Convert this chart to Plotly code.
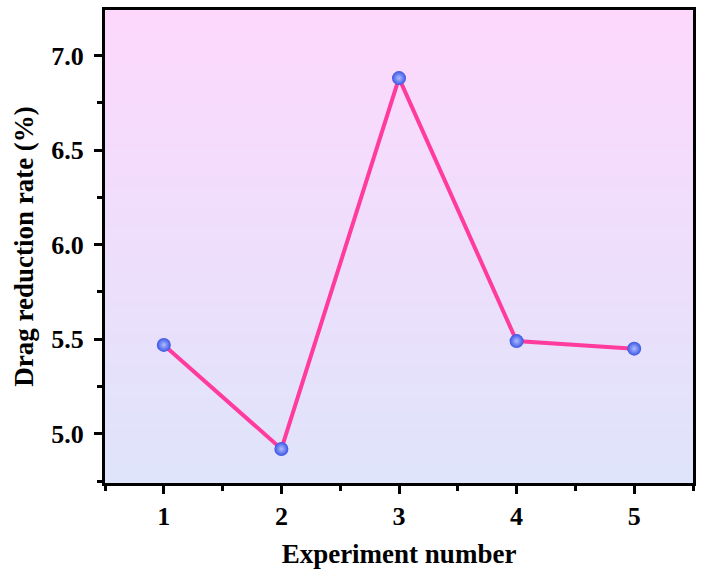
import plotly.graph_objects as go

experiments = [1, 2, 3, 4, 5]
drag_reduction = [5.47, 4.92, 6.88, 5.49, 5.45]
x_ticks = [1, 2, 3, 4, 5]
y_ticks = [5.0, 5.5, 6.0, 6.5, 7.0]
y_tick_labels = ["5.0", "5.5", "6.0", "6.5", "7.0"]

FONT = "Liberation Serif"

fig = go.Figure()

fig.add_trace(go.Scatter(
    x=experiments, y=drag_reduction, mode="lines+markers",
    line=dict(color="#ff3c9e", width=4),
    marker=dict(size=14, color="#3a55e4",
                gradient=dict(type="radial", color="#aebcff"),
                line=dict(width=0)),
    showlegend=False, cliponaxis=False,
))

# vertical gradient background (pink top -> light blue bottom)
top = (253, 216, 252)
bot = (223, 228, 251)
n = 120
shapes = []
for i in range(n):
    t = i / (n - 1)
    c = tuple(round(bot[k] + (top[k] - bot[k]) * t) for k in range(3))
    shapes.append(dict(type="rect", xref="x domain", yref="y domain",
                       x0=0, x1=1, y0=i / n, y1=(i + 1) / n + 0.002,
                       fillcolor="rgb(%d,%d,%d)" % c, line=dict(width=0),
                       layer="below"))

fig.update_layout(
    width=705, height=576,
    margin=dict(l=105, r=12, t=7, b=93),
    paper_bgcolor="white", plot_bgcolor="white",
    shapes=shapes,
    font=dict(family=FONT, color="black"),
    xaxis=dict(
        range=[0.5, 5.5], tickvals=x_ticks,
        ticks="outside", ticklen=8, tickwidth=2.5, tickcolor="black",
        minor=dict(tickvals=[0.5, 1.5, 2.5, 3.5, 4.5, 5.5], ticks="outside",
                   ticklen=5, tickwidth=2.5, tickcolor="black"),
        showline=True, linewidth=3, linecolor="black", mirror=True,
        showgrid=False, zeroline=False,
        tickfont=dict(family=FONT, size=26, color="black", weight="bold"),
        title=dict(text="<b>Experiment number</b>", font=dict(family=FONT, size=27),
                   standoff=14),
    ),
    yaxis=dict(
        range=[4.74, 7.24], tickvals=y_ticks, ticktext=y_tick_labels,
        ticks="outside", ticklen=8, tickwidth=2.5, tickcolor="black",
        minor=dict(tickvals=[4.75, 5.25, 5.75, 6.25, 6.75], ticks="outside",
                   ticklen=5, tickwidth=2.5, tickcolor="black"),
        showline=True, linewidth=3, linecolor="black", mirror=True,
        showgrid=False, zeroline=False,
        tickfont=dict(family=FONT, size=26, color="black", weight="bold"),
        ticklabelstandoff=5,
        title=dict(text="<b>Drag reduction rate (%)</b>", font=dict(family=FONT, size=27),
                   standoff=10),
    ),
)

fig.write_html("out.html")
